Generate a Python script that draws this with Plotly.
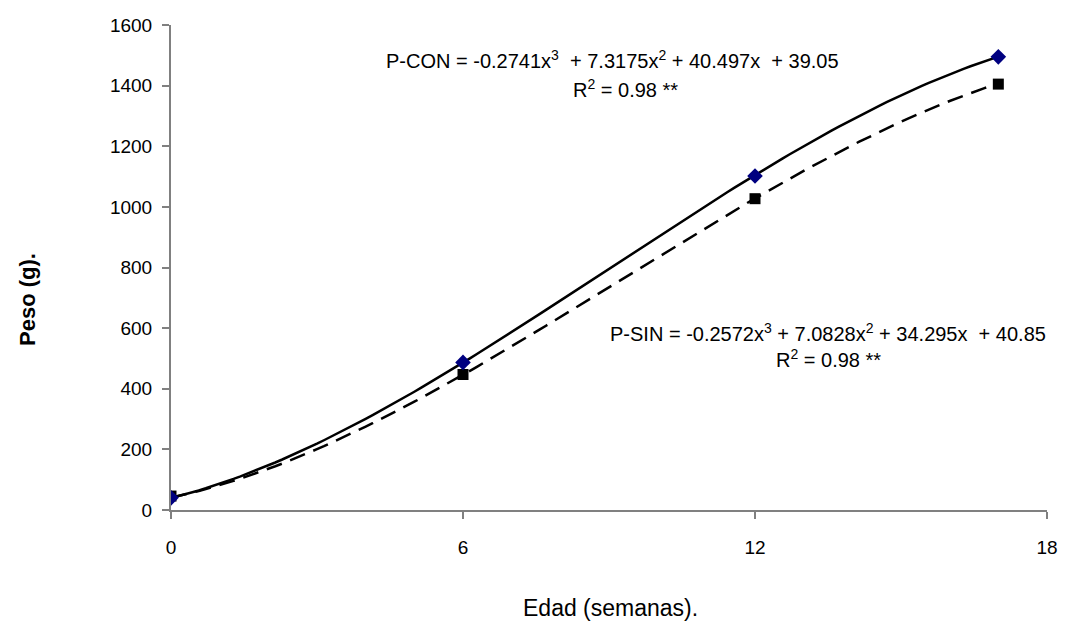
import numpy as np
import plotly.graph_objects as go

weeks = [0, 6, 12, 17]
p_con = [40, 487, 1102, 1495]
p_sin = [46, 447, 1027, 1405]

# trendline coefficients as printed on the chart (x^3, x^2, x, const)
coef_con = [-0.2741, 7.3175, 40.497, 39.05]
coef_sin = [-0.2572, 7.0828, 34.295, 40.85]

x_ticks = [0, 6, 12, 18]
y_ticks = [0, 200, 400, 600, 800, 1000, 1200, 1400, 1600]

eq_con = "P-CON = -0.2741x<sup>3</sup>  + 7.3175x<sup>2</sup> + 40.497x  + 39.05"
r2_con = "R<sup>2</sup> = 0.98 **"
eq_sin = "P-SIN = -0.2572x<sup>3</sup> + 7.0828x<sup>2</sup> + 34.295x  + 40.85"
r2_sin = "R<sup>2</sup> = 0.98 **"

FONT = "Liberation Sans, Arial"

# page body has an 8px margin; figure sized to fit the 1066x634 window
OFF = 8
W, H = 1050, 618
L, R, T, B = 163, 11, 17, 116

xt = np.linspace(weeks[0], weeks[-1], 120)

fig = go.Figure()
fig.add_trace(go.Scatter(x=xt, y=np.polyval(coef_con, xt), mode="lines",
                         line=dict(color="black", width=2.5),
                         showlegend=False, hoverinfo="skip"))
fig.add_trace(go.Scatter(x=xt, y=np.polyval(coef_sin, xt), mode="lines",
                         line=dict(color="black", width=2.5, dash="16px,9px"),
                         showlegend=False, hoverinfo="skip"))
fig.add_trace(go.Scatter(x=weeks, y=p_sin, mode="markers", name="P-SIN",
                         marker=dict(symbol="square", size=11, color="black"), showlegend=False))
fig.add_trace(go.Scatter(x=weeks, y=p_con, mode="markers", name="P-CON",
                         marker=dict(symbol="diamond", size=12, color="#000080"), showlegend=False))

fig.update_layout(
    width=W, height=H,
    margin=dict(l=L, r=R, t=T, b=B, autoexpand=False),
    plot_bgcolor="white", paper_bgcolor="white",
    font=dict(family=FONT, size=19, color="black"),
    xaxis=dict(range=[0, 18], tickvals=x_ticks, showgrid=False, zeroline=False,
               showline=True, linecolor="#808080", linewidth=2, automargin=False,
               ticks="outside", ticklen=7, tickcolor="#808080", tickwidth=2,
               tickfont=dict(family=FONT, size=19), ticklabelstandoff=12),
    yaxis=dict(range=[0, 1600], tickvals=y_ticks, showgrid=False, zeroline=False,
               showline=True, linecolor="#808080", linewidth=2, automargin=False,
               ticks="outside", ticklen=7, tickcolor="#808080", tickwidth=2,
               tickfont=dict(family=FONT, size=19), ticklabelstandoff=6),
)

def px_ann(text, cx, cy, size=20, **kw):
    fx = (cx - OFF - L) / (W - L - R)
    fy = 1 - (cy - OFF - T) / (H - T - B)
    fig.add_annotation(x=fx, y=fy, xref="paper", yref="paper", text=text, showarrow=False,
                       xanchor="center", yanchor="middle",
                       font=dict(family=FONT, size=size, color="black"), **kw)

px_ann(eq_con, 612, 60)
px_ann(r2_con, 625, 88)
px_ann(eq_sin, 828, 332)
px_ann(r2_sin, 828, 358)
px_ann("Edad (semanas).", 610, 608, size=23)
px_ann("<b>Peso (g).</b>", 27, 300, size=22, textangle=-90)

fig.write_html("out.html")
